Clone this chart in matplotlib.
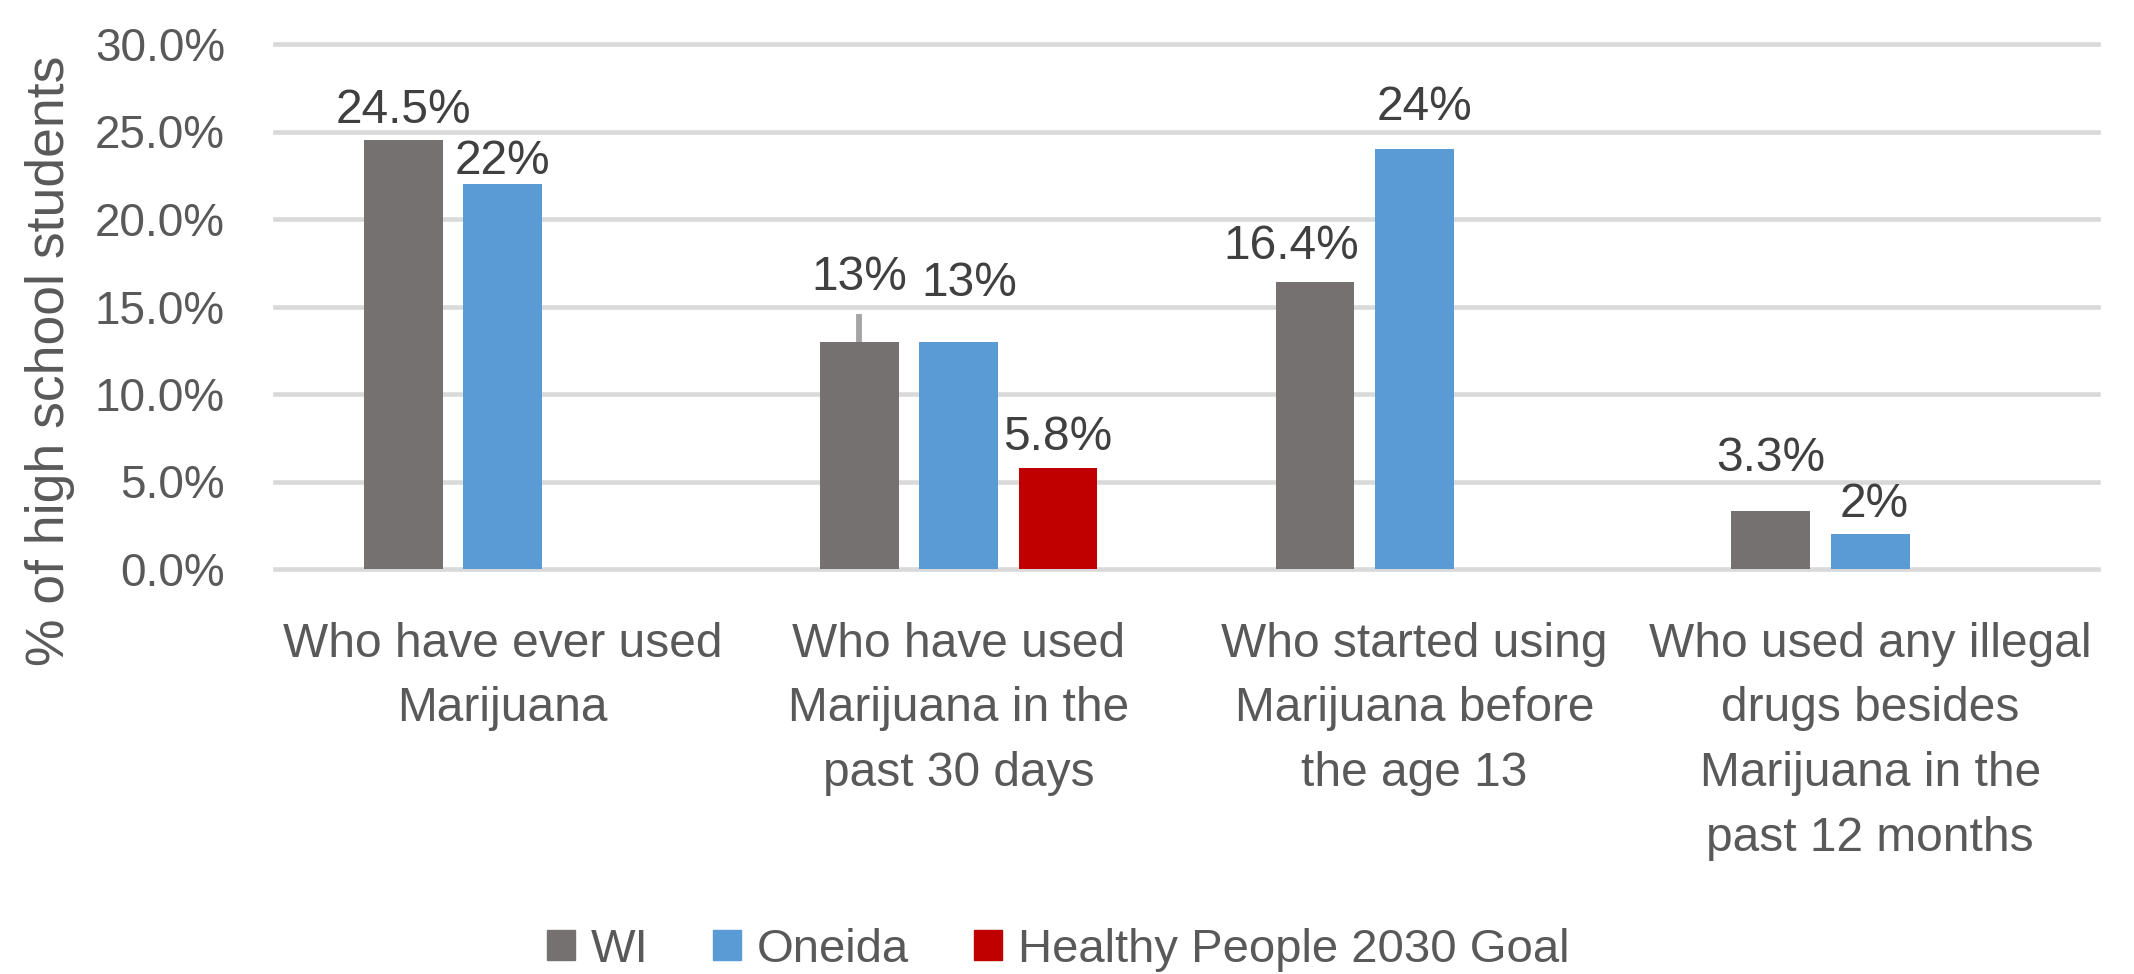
import numpy as np
import matplotlib
matplotlib.use("Agg")
import matplotlib.pyplot as plt
from matplotlib.patches import Patch

# Data
# =============================================================================
categories = ["Who have ever used\nMarijuana",
              "Who have used\nMarijuana in the\npast 30 days",
              "Who started using\nMarijuana before\nthe age 13",
              "Who used any illegal\ndrugs besides\nMarijuana in the\npast 12 months"]
series_names = ["WI", "Oneida", "Healthy People 2030 Goal"]
wi_values      = [24.5, 13.0, 16.4, 3.3]
oneida_values  = [22.0, 13.0, 24.0, 2.0]
goal_values    = [np.nan, 5.8, np.nan, np.nan]
wi_labels      = ["24.5%", "13%", "16.4%", "3.3%"]
oneida_labels  = ["22%", "13%", "24%", "2%"]
goal_labels    = ["", "5.8%", "", ""]
wi_err_upper   = [0, 1.6, 0, 0]
y_ticks        = [0, 5, 10, 15, 20, 25, 30]

# label nudges in pixels (dx, gap above bar top to baseline), as placed in the original
label_dx  = [[0, 0, -24, 0], [0, 11, 10, 4], [0, 0, 0, 0]]
label_gap = [[17, 51, 23, 40], [10, 45, 29, 17], [0, 18, 0, 0]]

# Style
# =============================================================================
colors = ["#757171", "#5B9BD5", "#C00000"]
txt = "#595959"
plt.rcParams['font.family'] = ['Liberation Sans', 'DejaVu Sans']
fs = 34.5

fig = plt.figure(figsize=(21.34, 9.74), dpi=100)
ax = fig.add_axes([275/2134, 1-569/974, (2098-275)/2134, (569-44)/974])

x = np.arange(len(categories))
step = 0.218
width = 0.173
all_vals = [wi_values, oneida_values, goal_values]
all_labels = [wi_labels, oneida_labels, goal_labels]

for i, (vals, labs) in enumerate(zip(all_vals, all_labels)):
    pos = x + (i - 1) * step
    ax.bar(pos, vals, width, color=colors[i], zorder=2)
    for j, (p, v, lab) in enumerate(zip(pos, vals, labs)):
        if lab == "":
            continue
        ax.annotate(lab, (p, v), xytext=(label_dx[i][j], label_gap[i][j]),
                    textcoords="offset pixels", ha="center", va="baseline",
                    fontsize=fs, color="#404040")

# thin error line on the WI bar
ax.errorbar(x - step, wi_values, yerr=[np.zeros(4), wi_err_upper], fmt="none",
            ecolor="#A5A5A5", elinewidth=4.2, capsize=0, zorder=3)

ax.set_xlim(-0.5, 3.5)
ax.set_ylim(0, 30)
ax.set_yticks(y_ticks)
ax.set_yticklabels(["%.1f%%" % t for t in y_ticks])
ax.set_xticks(x)
ax.set_xticklabels(categories, linespacing=1.56)
ax.tick_params(axis="y", length=0, pad=36, labelsize=33, labelcolor=txt)
ax.tick_params(axis="x", length=0, pad=38, labelsize=fs, labelcolor=txt)
ax.yaxis.grid(True, color="#D9D9D9", linewidth=3.3, zorder=0)
for gl in ax.get_ygridlines():
    gl.set_clip_on(False)
ax.set_axisbelow(True)
for s in ax.spines.values():
    s.set_visible(False)

fig.text(50/2134, 0.630, "% of high school students", rotation=90,
         ha="center", va="center", fontsize=38.5, color=txt)

handles = [Patch(color=c) for c in colors]
fig.legend(handles, series_names, loc="center", bbox_to_anchor=(0.4958, 0.025),
           ncol=3, frameon=False, fontsize=34, labelcolor=txt,
           handlelength=0.59, handleheight=0.59, handletextpad=0.34,
           columnspacing=1.37)

fig.savefig("out.png", dpi=100)
